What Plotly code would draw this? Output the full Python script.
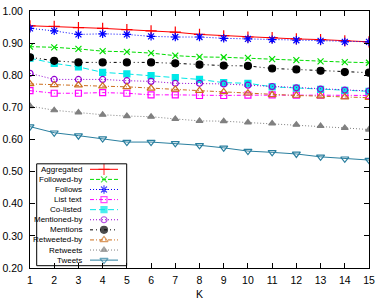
import plotly.graph_objects as go

K = list(range(1, 16))
series_names = ["Aggregated", "Followed-by", "Follows", "List text", "Co-listed",
                "Mentioned-by", "Mentions", "Retweeted-by", "Retweets", "Tweets"]
aggregated = [0.954, 0.952, 0.948, 0.946, 0.942, 0.938, 0.934, 0.927, 0.923, 0.919, 0.917, 0.913, 0.911, 0.907, 0.904]
followed_by = [0.889, 0.887, 0.882, 0.875, 0.873, 0.869, 0.861, 0.857, 0.856, 0.854, 0.850, 0.847, 0.843, 0.841, 0.839]
follows = [0.946, 0.938, 0.927, 0.929, 0.927, 0.921, 0.919, 0.919, 0.915, 0.913, 0.911, 0.909, 0.907, 0.904, 0.904]
list_text = [0.752, 0.744, 0.744, 0.746, 0.744, 0.739, 0.739, 0.737, 0.737, 0.738, 0.739, 0.738, 0.738, 0.737, 0.737]
co_listed = [0.853, 0.837, 0.826, 0.809, 0.804, 0.799, 0.793, 0.787, 0.777, 0.775, 0.764, 0.760, 0.756, 0.753, 0.750]
mentioned_by = [0.806, 0.787, 0.787, 0.787, 0.783, 0.781, 0.775, 0.775, 0.773, 0.769, 0.765, 0.761, 0.757, 0.754, 0.751]
mentions = [0.856, 0.845, 0.840, 0.840, 0.840, 0.840, 0.837, 0.833, 0.830, 0.829, 0.821, 0.818, 0.814, 0.810, 0.808]
retweeted_by = [0.773, 0.770, 0.769, 0.766, 0.764, 0.759, 0.756, 0.752, 0.748, 0.744, 0.739, 0.737, 0.735, 0.732, 0.730]
retweets = [0.704, 0.691, 0.684, 0.677, 0.673, 0.671, 0.664, 0.658, 0.657, 0.653, 0.650, 0.646, 0.642, 0.636, 0.631]
tweets = [0.640, 0.621, 0.612, 0.603, 0.592, 0.592, 0.588, 0.582, 0.574, 0.564, 0.560, 0.555, 0.546, 0.540, 0.536]
y_ticks = [0.2, 0.3, 0.4, 0.5, 0.6, 0.7, 0.8, 0.9, 1.0]

values = [aggregated, followed_by, follows, list_text, co_listed,
          mentioned_by, mentions, retweeted_by, retweets, tweets]

styles = [
    dict(color="#ff0000", dash="solid", symbol="cross-thin-open", size=8),
    dict(color="#00dd00", dash="4px,2px", symbol="x-thin-open", size=6),
    dict(color="#0000ff", dash="1px,2px", symbol="asterisk-open", size=7),
    dict(color="#ff00ff", dash="4px,2px,1px,2px", symbol="square-open", size=6),
    dict(color="#00e8e8", dash="6px,3px", symbol="square", size=6),
    dict(color="#9400d3", dash="1px,2px", symbol="circle-open", size=6),
    dict(color="#000000", dash="3px,3px,1px,3px,1px,3px", symbol="circle", size=7),
    dict(color="#cc6f1e", dash="4px,2px,1px,2px", symbol="triangle-up-open", size=7),
    dict(color="#808080", dash="1px,2px", symbol="triangle-up", size=6),
    dict(color="#2a7f9f", dash="solid", symbol="triangle-down-open", size=7),
]

fig = go.Figure()
for name, vals, st in zip(series_names, values, styles):
    fig.add_trace(go.Scatter(
        x=K, y=vals, name=name, mode="lines+markers", showlegend=False,
        line=dict(color=st["color"], width=1, dash=st["dash"]),
        marker=dict(symbol=st["symbol"], size=st["size"], color=st["color"],
                    line=dict(color=st["color"], width=1.2)),
    ))

# custom legend on a pixel-coordinate overlay axis
L_LEFT, L_TOP, L_RIGHT, L_BOTTOM = 36.7, 164, 126.7, 266
ROW0, ROWSTEP = 169.5, 10.1
TXT_X, S0, S1 = 84, 90, 118
for i, (name, st) in enumerate(zip(series_names, styles)):
    yy = ROW0 + ROWSTEP * i
    fig.add_trace(go.Scatter(
        x=[S0, (S0 + S1) / 2, S1], y=[yy, yy, yy], xaxis="x2", yaxis="y2",
        mode="lines+markers", showlegend=False, hoverinfo="skip",
        line=dict(color=st["color"], width=1, dash=st["dash"]),
        marker=dict(symbol=st["symbol"], size=[0, st["size"], 0], color=st["color"],
                    line=dict(color=st["color"], width=1.2)),
    ))
    fig.add_annotation(x=TXT_X, y=yy, xref="x2", yref="y2", text=name,
                       showarrow=False, xanchor="right", yanchor="middle",
                       font=dict(size=8, color="#000000"))
fig.add_shape(type="rect", xref="x2", yref="y2", x0=L_LEFT, x1=L_RIGHT,
              y0=L_TOP, y1=L_BOTTOM, line=dict(color="#000000", width=1), layer="above")

axis_font = dict(family="Liberation Sans, Arial, sans-serif", size=10.5, color="#000000")
fig.update_layout(
    width=389, height=305,
    margin=dict(l=30, r=20, t=11, b=37, autoexpand=False),
    paper_bgcolor="white", plot_bgcolor="white",
    font=dict(family="Liberation Sans, Arial, sans-serif", color="#000000"),
    xaxis=dict(range=[1, 15], tickmode="array", tickvals=K, ticks="inside", ticklen=5,
               tickcolor="#000000", showgrid=False, zeroline=False, showline=True,
               linecolor="#000000", linewidth=1, mirror="ticks", tickfont=axis_font,
               automargin=False, ticklabelstandoff=2,
               title=dict(text="K", font=axis_font, standoff=6)),
    yaxis=dict(range=[0.2, 1.0], tickmode="array", tickvals=y_ticks, tickformat=".2f",
               ticks="inside", ticklen=5, tickcolor="#000000", showgrid=False,
               zeroline=False, showline=True, linecolor="#000000", linewidth=1,
               mirror="ticks", tickfont=axis_font, ticklabelstandoff=4, automargin=False),
    xaxis2=dict(overlaying="x", range=[30, 369], visible=False, fixedrange=True),
    yaxis2=dict(overlaying="y", range=[268.3, 11], visible=False, fixedrange=True),
)

fig.write_html("out.html", config={"displayModeBar": False},
               post_script="document.body.style.margin='0px';document.body.style.overflow='hidden';")
